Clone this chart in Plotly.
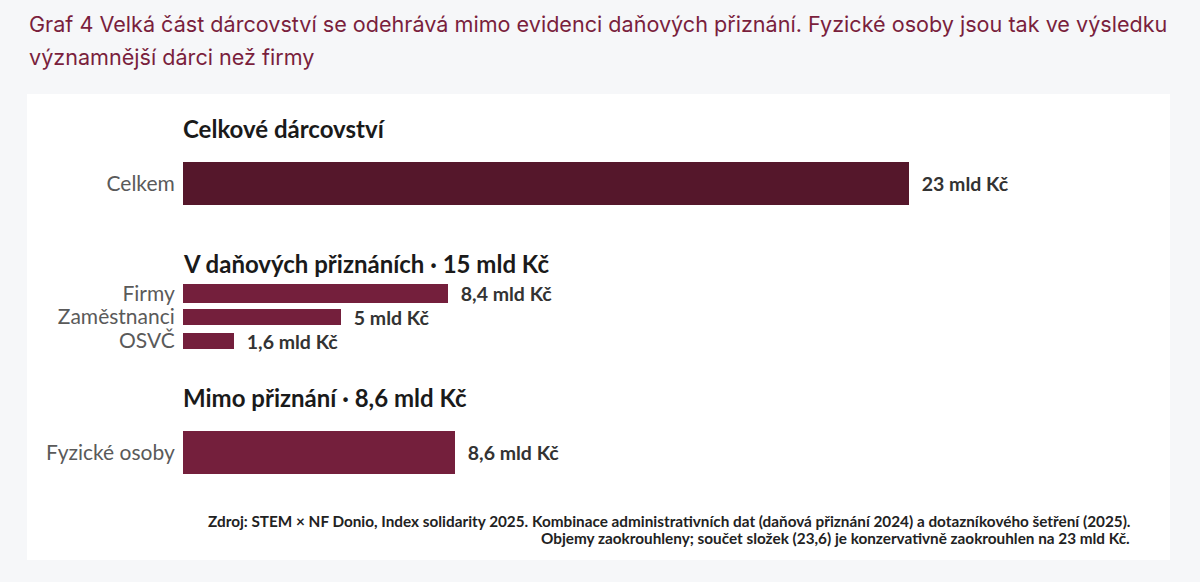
import plotly.graph_objects as go

# data
categories = ["Celkem", "Firmy", "Zaměstnanci", "OSVČ", "Fyzické osoby"]
values = [23, 8.4, 5, 1.6, 8.6]
group_titles = ["Celkové dárcovství",
                "V daňových přiznáních · 15 mld Kč",
                "Mimo přiznání · 8,6 mld Kč"]

title_lines = ["Graf 4 Velká část dárcovství se odehrává mimo evidenci daňových přiznání. "
               "Fyzické osoby jsou tak ve výsledku",
               "významnější dárci než firmy"]
source_lines = ["Zdroj: STEM × NF Donio, Index solidarity 2025. Kombinace administrativních dat "
                "(daňová přiznání 2024) a dotazníkového šetření (2025).",
                "Objemy zaokrouhleny; součet složek (23,6) je konzervativně zaokrouhlen na 23 mld Kč."]

# layout (rows measured in pixels from top of page)
W, H = 1200, 582
row_y = [183.5, 293.5, 317, 341, 452.5]
bar_h = [43, 19, 16, 16, 43]
group_title_y = [128, 263, 397]
title_line_y = [24, 57]
source_line_y = [521, 538]
bar_colors = ["#55172b", "#741f3c", "#741f3c", "#741f3c", "#741f3c"]

x0_px, px_per_unit = 183, 31.57
x_max = 30
labels = ["\u2002" + f"{v:g}".replace(".", ",") + " mld Kč" for v in values]

fig = go.Figure(go.Bar(
    x=values, y=row_y, orientation="h", width=bar_h,
    marker=dict(color=bar_colors, line=dict(width=0)),
    text=labels, textposition="outside", constraintext="none",
    textfont=dict(family="Lato", size=19.5, color="#333333", weight="bold"),
    cliponaxis=False, hoverinfo="skip",
))

fig.update_layout(
    width=W, height=H, margin=dict(l=0, r=0, t=0, b=0),
    paper_bgcolor="#f6f7f9", plot_bgcolor="rgba(0,0,0,0)",
    showlegend=False, bargap=0,
    xaxis=dict(domain=[x0_px / W, (x0_px + x_max * px_per_unit) / W],
               range=[0, x_max], visible=False),
    yaxis=dict(domain=[0, 1], range=[H, 0], showgrid=False, zeroline=False,
               tickvals=row_y, ticktext=categories, ticks="outside",
               ticklen=3, tickcolor="rgba(0,0,0,0)", showline=False,
               tickfont=dict(family="Lato", size=21, color="#5a5a5a")),
    shapes=[dict(type="rect", xref="paper", yref="paper",
                 x0=27 / W, x1=1170 / W, y0=1 - 560 / H, y1=1 - 94 / H,
                 fillcolor="white", line=dict(width=0), layer="below")],
)

for t, ty in zip(title_lines, title_line_y):
    fig.add_annotation(text=t, xref="paper", yref="y", x=27 / W, y=ty,
                       xanchor="left", yanchor="middle", showarrow=False,
                       font=dict(family="Inter", size=21.6, color="#7a1f3d"))

for t, ty in zip(group_titles, group_title_y):
    fig.add_annotation(text=t, xref="paper", yref="y", x=(x0_px - 2) / W, y=ty,
                       xanchor="left", yanchor="middle", showarrow=False,
                       font=dict(family="Lato", size=24, color="#1a1a1a", weight="bold"))

for t, ty in zip(source_lines, source_line_y):
    fig.add_annotation(text=t, xref="paper", yref="y", x=1132 / W, y=ty,
                       xanchor="right", yanchor="middle", showarrow=False,
                       font=dict(family="Lato", size=15.3, color="#222222", weight="bold"))

fig.write_html("out.html", config={"displayModeBar": False},
               post_script="document.body.style.margin='0';")
